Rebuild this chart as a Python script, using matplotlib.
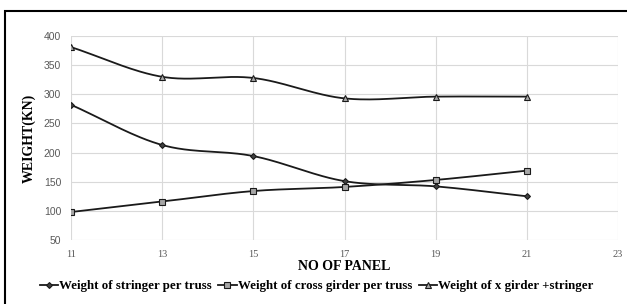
import numpy as np
import matplotlib
matplotlib.use("Agg")
import matplotlib.pyplot as plt
from matplotlib.patches import Rectangle

# data
panels = [11, 13, 15, 17, 19, 21]
stringer = [282, 213, 194, 151, 142, 125]
cross_girder = [98, 116, 134, 141, 153, 169]
x_girder_stringer = [381, 330, 328, 293, 296, 296]

x_ticks = [11, 13, 15, 17, 19, 21, 23]
y_ticks = [50, 100, 150, 200, 250, 300, 350, 400]


def smooth(x, y, n=30):
    # Catmull-Rom curve through the points, like Excel "smoothed line"
    x = np.asarray(x, float)
    y = np.asarray(y, float)
    px = np.concatenate([[2 * x[0] - x[1]], x, [2 * x[-1] - x[-2]]])
    py = np.concatenate([[2 * y[0] - y[1]], y, [2 * y[-1] - y[-2]]])
    xs, ys = [], []
    t = np.linspace(0, 1, n)
    for i in range(1, len(px) - 2):
        for p, out in ((px, xs), (py, ys)):
            p0, p1, p2, p3 = p[i - 1], p[i], p[i + 1], p[i + 2]
            out.extend(0.5 * (2 * p1 + (-p0 + p2) * t
                              + (2 * p0 - 5 * p1 + 4 * p2 - p3) * t ** 2
                              + (-p0 + 3 * p1 - 3 * p2 + p3) * t ** 3))
    return xs, ys


fig = plt.figure(figsize=(6.27, 3.04), dpi=100)
ax = fig.add_axes([71 / 627, 64 / 304, 547 / 627, 204 / 304])

line_col = "#1a1a1a"
series = [
    (stringer, "Weight of stringer per truss",
     dict(marker="D", markersize=3, markerfacecolor="#404040", markeredgecolor=line_col)),
    (cross_girder, "Weight of cross girder per truss",
     dict(marker="s", markersize=5, markerfacecolor="#a6a6a6", markeredgecolor=line_col)),
    (x_girder_stringer, "Weight of x girder +stringer",
     dict(marker="^", markersize=4.5, markerfacecolor="#a6a6a6", markeredgecolor=line_col)),
]

handles = []
for vals, label, mk in series:
    sx, sy = smooth(panels, vals)
    ax.plot(sx, sy, color=line_col, lw=1.3, zorder=3)
    ax.plot(panels, vals, ls="none", zorder=4, markeredgewidth=0.8, **mk)
    h, = ax.plot([], [], color=line_col, lw=1.3, markeredgewidth=0.8, label=label, **mk)
    handles.append(h)

ax.set_xlim(11, 23)
ax.set_ylim(50, 400)
ax.set_xticks(x_ticks)
ax.set_yticks(y_ticks)
ax.grid(True, color="#d9d9d9", lw=0.8)
ax.set_axisbelow(True)
for s in ax.spines.values():
    s.set_visible(False)
ax.tick_params(length=0, pad=7, colors="#595959")
for lab in ax.get_xticklabels():
    lab.set_fontfamily("Liberation Serif")
    lab.set_fontsize(7.5)
for lab in ax.get_yticklabels():
    lab.set_fontfamily("Liberation Sans")
    lab.set_fontsize(7.5)

ax.set_xlabel("NO OF PANEL", fontfamily="Liberation Serif", fontweight="bold",
              fontsize=10, labelpad=1)
ax.set_ylabel("WEIGHT(KN)", fontfamily="Liberation Serif", fontweight="bold",
              fontsize=10, labelpad=6)

fig.legend(handles=handles, loc="center", bbox_to_anchor=(0.505, 18 / 304), ncol=3,
           frameon=False, handlelength=1.4, columnspacing=0.5, handletextpad=0.1,
           prop={"family": "Liberation Serif", "weight": "bold", "size": 9.3})

# outer chart frame
fig.patches.append(Rectangle((5 / 627, -0.05), 1.0, 1.05 - 11 / 304, transform=fig.transFigure,
                             fill=False, edgecolor="#000000", lw=1.5))

fig.savefig("out.png", dpi=100)
